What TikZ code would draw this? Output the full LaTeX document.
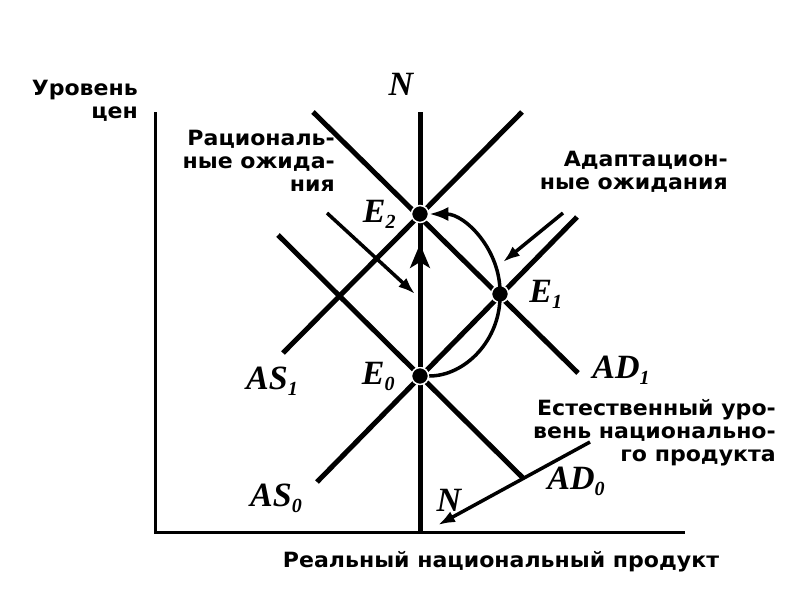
\documentclass[tikz,border=0pt]{standalone}
\usepackage{fontspec}
\setmainfont{Liberation Serif}
\newfontfamily\cyrfont[FakeStretch=1.05]{DejaVu Sans}
\usetikzlibrary{arrows.meta, positioning}

\newcommand{\idx}[2]{#1\raisebox{-6pt}{\fontsize{20}{20}\selectfont #2}}

\begin{document}
\begin{tikzpicture}[x=1pt, y=-1pt]
    \tikzset{
        curve/.style = {draw, line width=5pt},
        axis/.style  = {draw, line width=3pt},
        dot/.style   = {circle, fill=black, draw=white, line width=1.5pt, inner sep=0pt, minimum size=17pt},
        line/.style  = {draw, line width=3.5pt, -{Latex[length=17pt, width=12pt]}},
        bigtip/.style = {draw, line width=3.5pt, -{Stealth[length=24pt, width=20pt, inset=6pt]}},
        arc/.style   = {draw, line width=3.5pt, -{Latex[length=19pt, width=14pt]}},
        txt/.style   = {font=\cyrfont\bfseries\fontsize{21}{23}\selectfont, align=right, inner sep=0pt},
        lbl/.style   = {font=\bfseries\itshape\fontsize{34}{34}\selectfont, inner sep=0pt}
    }

    \useasboundingbox (0,0) rectangle (795,600);

    \coordinate (origin) at (155,532);
    \coordinate (ytop) at (155,112);
    \coordinate (xend) at (685,532);

    \coordinate (ntop) at (420,112);
    \coordinate (nbot) at (420,532);

    \coordinate (as0a) at (317,482);
    \coordinate (as0b) at (577,217);
    \coordinate (as1a) at (283,353);
    \coordinate (as1b) at (522,112);
    \coordinate (ad0a) at (278,235);
    \coordinate (ad0b) at (523,478);
    \coordinate (ad1a) at (313,112);
    \coordinate (ad1b) at (578,373);

    \path [axis] (ytop) -- (origin) -- (xend);
    \path [curve] (ntop) -- (nbot);
    \path [curve] (as0a) -- (as0b);
    \path [curve] (as1a) -- (as1b);
    \path [curve] (ad0a) -- (ad0b);
    \path [curve] (ad1a) -- (ad1b);

    \node[dot](e0) at (420,376){};
    \node[dot](e1) at (500,294){};
    \node[dot](e2) at (420,214){};

    \node[lbl](le0)[left = 16pt of e0]{\idx{E}{0}};
    \node[lbl](le1)[right = 20pt of e1]{\idx{E}{1}};
    \node[lbl](le2)[left = 15pt of e2]{\idx{E}{2}};

    \node[lbl](ntxt) at (401,84){N};
    \node[lbl](nlow) at (449,500){N};
    \node[lbl](as1) at (272,381){\idx{AS}{1}};
    \node[lbl](as0) at (276,498){\idx{AS}{0}};
    \node[lbl](ad1) at (621,370){\idx{AD}{1}};
    \node[lbl](ad0) at (576,481){\idx{AD}{0}};

    \node[txt, anchor=east](price) at (138,101){Уровень\\цен};
    \node[txt, anchor=east](rational) at (335,161){Рациональ-\\ные ожида-\\ния};
    \node[txt, anchor=east](adaptive) at (728,172){Адаптацион-\\ные ожидания};
    \node[txt, anchor=east](natural) at (776,433){Естественный уро-\\вень национально-\\го продукта};
    \node[txt](product) at (501,562){Реальный национальный продукт};

    \coordinate (ratstart) at (327,213);
    \coordinate (ratend) at (415,294);
    \coordinate (adpstart) at (563,213);
    \coordinate (adpend) at (503,262);
    \coordinate (nup) at (420,244);
    \coordinate (natstart) at (590,442);
    \coordinate (natend) at (438,525);

    \path [line] (ratstart) -- (ratend);
    \path [line] (adpstart) -- (adpend);
    \path [bigtip] (e0) -- (nup);
    \path [line] (natstart) -- (natend);
    \path [arc] (e0) .. controls (465,376) and (501,340) .. (e1.center)
        .. controls (501,250) and (465,214) .. (e2);

\end{tikzpicture}
\end{document}
